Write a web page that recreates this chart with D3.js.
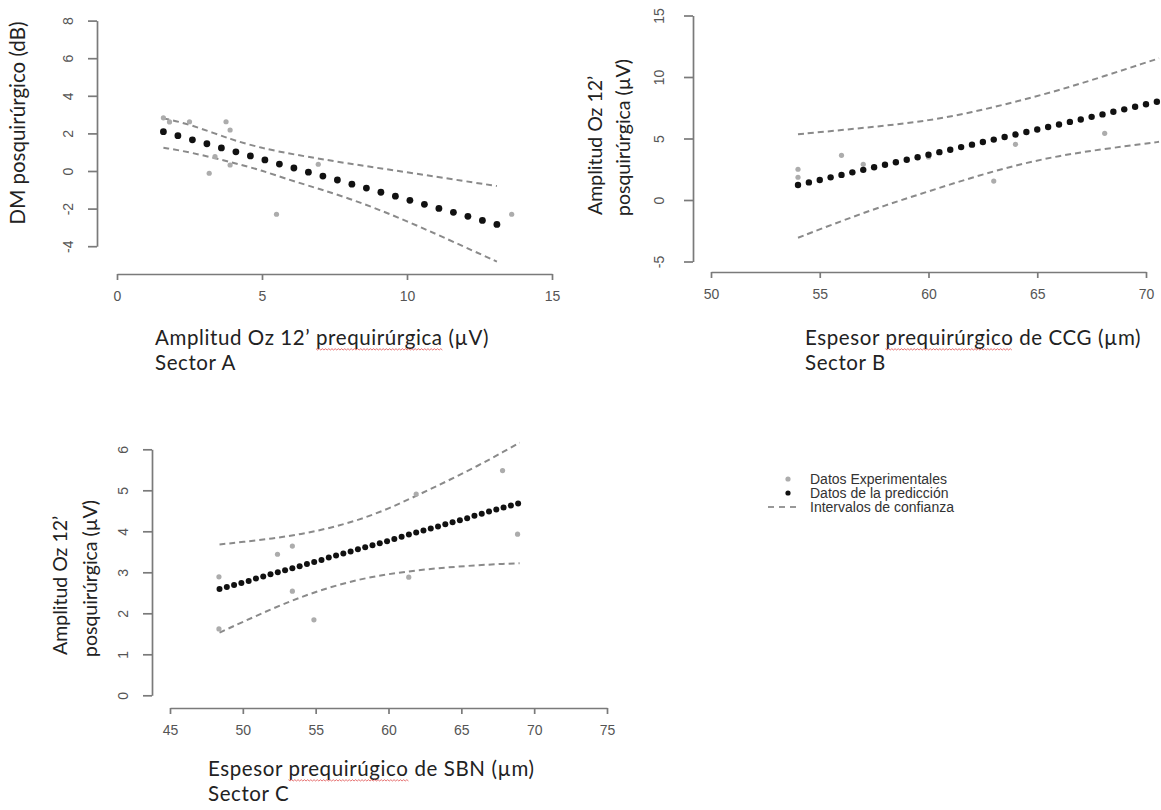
<!DOCTYPE html>
<html>
<head>
<meta charset="utf-8">
<script src="https://cdn.jsdelivr.net/npm/d3@7"></script>
<style>
  body { margin: 0; background: #fff; }
  svg { display: block; }
</style>
</head>
<body>
<div id="chart"></div>
<script>
// ---- Sector A ----
var aXTicks = [0, 5, 10, 15];
var aYTicks = [-4, -2, 0, 2, 4, 6, 8];
var aPredX = [1.6, 2.1, 2.6, 3.1, 3.6, 4.1, 4.6, 5.1, 5.6, 6.1, 6.6, 7.1, 7.6, 8.1, 8.6, 9.1, 9.6, 10.1, 10.6, 11.1, 11.6, 12.1, 12.6, 13.1];
var aPredY = [2.09, 1.88, 1.66, 1.45, 1.23, 1.02, 0.80, 0.59, 0.37, 0.16, -0.06, -0.27, -0.48, -0.70, -0.91, -1.13, -1.34, -1.56, -1.77, -1.99, -2.20, -2.41, -2.63, -2.84];
var aBandX = [1.6, 2.5, 4, 5, 6, 8, 10, 12, 13.1];
var aUpper = [2.80, 2.50, 1.63, 1.22, 0.90, 0.39, -0.07, -0.54, -0.80];
var aLower = [1.24, 1.01, 0.45, 0.03, -0.51, -1.42, -2.65, -4.05, -4.82];
var aExpX = [1.60, 1.81, 2.50, 3.76, 3.90, 3.18, 5.50, 6.94, 13.61, 3.38, 3.90];
var aExpY = [2.83, 2.61, 2.62, 2.62, 2.18, -0.12, -2.30, 0.36, -2.30, 0.76, 0.32];

// ---- Sector B ----
var bXTicks = [50, 55, 60, 65, 70];
var bYTicks = [-5, 0, 5, 10, 15];
var bPredX = [54, 54.5, 55, 55.5, 56, 56.5, 57, 57.5, 58, 58.5, 59, 59.5, 60, 60.5, 61, 61.5, 62, 62.5, 63, 63.5, 64, 64.5, 65, 65.5, 66, 66.5, 67, 67.5, 68, 68.5, 69, 69.5, 70, 70.5];
var bPredY = [1.22, 1.43, 1.63, 1.84, 2.04, 2.25, 2.45, 2.66, 2.86, 3.07, 3.27, 3.48, 3.68, 3.89, 4.09, 4.30, 4.50, 4.71, 4.91, 5.12, 5.32, 5.53, 5.73, 5.94, 6.14, 6.35, 6.55, 6.76, 6.96, 7.17, 7.37, 7.58, 7.78, 7.99];
var bBandX = [54, 56, 58, 60, 62, 64, 66, 68, 70, 70.6];
var bUpper = [5.35, 5.68, 6.04, 6.45, 7.12, 7.98, 8.92, 10.02, 11.18, 11.52];
var bLower = [-3.07, -1.70, -0.43, 0.70, 1.83, 2.83, 3.60, 4.14, 4.58, 4.73];
var bExpX = [54.0, 54.0, 56.0, 57.0, 63.0, 64.0, 68.1, 60.0];
var bExpY = [2.50, 1.85, 3.63, 2.90, 1.54, 4.53, 5.42, 3.50];

// ---- Sector C ----
var cXTicks = [45, 50, 55, 60, 65, 70, 75];
var cYTicks = [0, 1, 2, 3, 4, 5, 6];
var cPredX = [48.4, 48.9, 49.4, 49.9, 50.4, 50.9, 51.4, 51.9, 52.4, 52.9, 53.4, 53.9, 54.4, 54.9, 55.4, 55.9, 56.4, 56.9, 57.4, 57.9, 58.4, 58.9, 59.4, 59.9, 60.4, 60.9, 61.4, 61.9, 62.4, 62.9, 63.4, 63.9, 64.4, 64.9, 65.4, 65.9, 66.4, 66.9, 67.4, 67.9, 68.4, 68.9];
var cPredY = [2.59, 2.64, 2.69, 2.74, 2.79, 2.85, 2.90, 2.95, 3.00, 3.05, 3.10, 3.15, 3.20, 3.25, 3.30, 3.36, 3.41, 3.46, 3.51, 3.56, 3.61, 3.66, 3.71, 3.76, 3.81, 3.87, 3.92, 3.97, 4.02, 4.07, 4.12, 4.17, 4.22, 4.27, 4.32, 4.38, 4.43, 4.48, 4.53, 4.58, 4.63, 4.68];
var cBandX = [48.4, 50, 52, 54, 56, 58, 60, 62, 64, 66, 68, 69];
var cUpper = [3.68, 3.74, 3.82, 3.93, 4.08, 4.28, 4.55, 4.88, 5.22, 5.57, 5.96, 6.16];
var cLower = [1.53, 1.79, 2.11, 2.40, 2.64, 2.83, 2.96, 3.05, 3.12, 3.17, 3.21, 3.22];
var cExpX = [48.36, 48.36, 52.38, 53.40, 53.40, 54.88, 61.90, 61.39, 67.83, 68.86];
var cExpY = [2.89, 1.62, 3.44, 3.64, 2.54, 1.84, 4.91, 2.88, 5.48, 3.93];

var legendLabels = ["Datos Experimentales", "Datos de la predicción", "Intervalos de confianza"];

var titleFont = "Lato, 'Open Sans', sans-serif";
var tickFont = "'Liberation Sans', Arial, sans-serif";

var svg = d3.select("#chart").append("svg")
	.attr("width", 1161)
	.attr("height", 810);

function zip(xs, ys){
	return xs.map(function(d, i){ return [d, ys[i]]; });
}

// red spell-check squiggle under one word of a text line
function squiggle(textNode, start, len){
	var x0 = textNode.getStartPositionOfChar(start).x;
	var x1 = textNode.getEndPositionOfChar(start + len - 1).x;
	var yb = textNode.getStartPositionOfChar(start).y + 4;
	var pts = [], k = 0;
	for(var xx = x0; xx <= x1; xx += 1.6){
		pts.push([xx, yb + (k % 2 ? 1 : -0.3)]);
		k++;
	}
	svg.append("path")
		.attr("d", d3.line()(pts))
		.attr("fill", "none")
		.attr("stroke", "#e05050")
		.attr("stroke-width", 0.8);
}

// plain R-like tick labels (hyphen minus, no decimals)
function plain(d){ return String(d); }

function panel(p){
	var x = d3.scaleLinear().domain(p.xDomain).range(p.xRange);
	var y = d3.scaleLinear().domain(p.yDomain).range(p.yRange);
	var g = svg.append("g");

	var xAxis = g.append("g")
		.attr("transform", "translate(0," + p.xAxisY + ")")
		.call(d3.axisBottom(x).tickValues(p.xTicks).tickFormat(plain).tickSize(6).tickSizeOuter(0).tickPadding(11));
	var yAxis = g.append("g")
		.attr("transform", "translate(" + p.yAxisX + ",0)")
		.call(d3.axisLeft(y).tickValues(p.yTicks).tickFormat(plain).tickSize(9).tickSizeOuter(0));

	[xAxis, yAxis].forEach(function(a){
		a.selectAll("path, line").attr("stroke", "#7a7a7a").attr("stroke-width", 1.7);
		a.selectAll("text")
			.style("font-family", tickFont)
			.style("font-size", "14px")
			.attr("fill", "#555");
	});
	yAxis.selectAll("text")
		.attr("x", 0).attr("y", 0).attr("dy", "0.35em")
		.attr("text-anchor", "middle")
		.attr("transform", "translate(" + (-p.yLabelOff) + ",0) rotate(-90)");

	// confidence bands
	var band = d3.line()
		.x(function(d){ return x(d[0]); })
		.y(function(d){ return y(d[1]); })
		.curve(d3.curveBasis);
	[p.upper, p.lower].forEach(function(b){
		g.append("path")
			.attr("d", band(zip(p.bandX, b)))
			.attr("fill", "none")
			.attr("stroke", "#8a8a8a")
			.attr("stroke-width", 2)
			.attr("stroke-dasharray", "6,4");
	});

	// experimental points
	g.selectAll(".exp").data(zip(p.expX, p.expY)).enter()
		.append("circle")
		.attr("cx", function(d){ return x(d[0]); })
		.attr("cy", function(d){ return y(d[1]); })
		.attr("r", 2.6)
		.style("fill", "#acacac");

	// predicted points
	g.selectAll(".pred").data(zip(p.predX, p.predY)).enter()
		.append("circle")
		.attr("cx", function(d){ return x(d[0]); })
		.attr("cy", function(d){ return y(d[1]); })
		.attr("r", p.dotR)
		.style("fill", "#111");

	// x title (two lines)
	p.xTitle.forEach(function(t, i){
		var txt = svg.append("text")
			.attr("x", p.xTitlePos[0])
			.attr("y", p.xTitlePos[1] + i * 25)
			.style("font-family", titleFont)
			.style("font-size", "20.5px")
			.style("letter-spacing", "0.6px")
			.attr("fill", "#222")
			.text(t);
		if(i == 0 && p.misspelt){
			squiggle(txt.node(), t.indexOf(p.misspelt), p.misspelt.length);
		}
	});

	// y title (one or two rotated lines)
	p.yTitle.forEach(function(t, i){
		svg.append("text")
			.attr("transform", "translate(" + p.yTitlePos[i][0] + "," + p.yTitlePos[i][1] + ") rotate(-90)")
			.attr("text-anchor", p.yTitle.length > 1 ? "start" : "middle")
			.attr("dy", "0.35em")
			.style("font-family", titleFont)
			.style("font-size", p.yTitleSize)
			.attr("fill", "#222")
			.text(t);
	});
}

panel({
	xDomain: [0, 15], xRange: [117, 552], xAxisY: 274, xTicks: aXTicks,
	yDomain: [-4, 8], yRange: [246.2, 20.6], yAxisX: 97, yTicks: aYTicks, yLabelOff: 29,
	predX: aPredX, predY: aPredY, dotR: 3.4,
	bandX: aBandX, upper: aUpper, lower: aLower,
	expX: aExpX, expY: aExpY,
	xTitle: ["Amplitud Oz 12\u2019 prequirúrgica (µV)", "Sector A"], xTitlePos: [155, 345],
	misspelt: "prequirúrgica",
	yTitle: ["DM posquirúrgico (dB)"], yTitlePos: [[18, 123]], yTitleSize: "20.5px"
});

panel({
	xDomain: [50, 70], xRange: [711, 1146], xAxisY: 272, xTicks: bXTicks,
	yDomain: [-5, 15], yRange: [261.5, 15.5], yAxisX: 693, yTicks: bYTicks, yLabelOff: 34,
	predX: bPredX, predY: bPredY, dotR: 3.2,
	bandX: bBandX, upper: bUpper, lower: bLower,
	expX: bExpX, expY: bExpY,
	xTitle: ["Espesor prequirúrgico de CCG (µm)", "Sector B"], xTitlePos: [805, 345],
	misspelt: "prequirúrgico",
	yTitle: ["Amplitud Oz 12\u2019", "posquirúrgica (µV)"], yTitlePos: [[595, 215], [623, 216]], yTitleSize: "19.5px"
});

panel({
	xDomain: [45, 75], xRange: [170, 607], xAxisY: 708, xTicks: cXTicks,
	yDomain: [0, 6], yRange: [695.3, 449.3], yAxisX: 152, yTicks: cYTicks, yLabelOff: 29,
	predX: cPredX, predY: cPredY, dotR: 3,
	bandX: cBandX, upper: cUpper, lower: cLower,
	expX: cExpX, expY: cExpY,
	xTitle: ["Espesor prequirúgico de SBN (µm)", "Sector C"], xTitlePos: [208, 776],
	misspelt: "prequirúgico",
	yTitle: ["Amplitud Oz 12\u2019", "posquirúrgica (µV)"], yTitlePos: [[60, 655], [90, 657]], yTitleSize: "19.5px"
});

// legend
var legend = svg.append("g");
legendLabels.forEach(function(t, i){
	var ly = 479 + i * 14;
	if(i == 0){
		legend.append("circle").attr("cx", 788).attr("cy", ly).attr("r", 2.6).style("fill", "#acacac");
	}else if(i == 1){
		legend.append("circle").attr("cx", 788).attr("cy", ly).attr("r", 2.6).style("fill", "#111");
	}else{
		legend.append("line").attr("x1", 768).attr("x2", 798).attr("y1", ly).attr("y2", ly)
			.attr("stroke", "#777").attr("stroke-width", 1.6).attr("stroke-dasharray", "6,5");
	}
	legend.append("text")
		.attr("x", 810).attr("y", ly).attr("dy", "0.35em")
		.style("font-family", tickFont)
		.style("font-size", "14px")
		.attr("fill", "#333")
		.text(t);
});
</script>
</body>
</html>
